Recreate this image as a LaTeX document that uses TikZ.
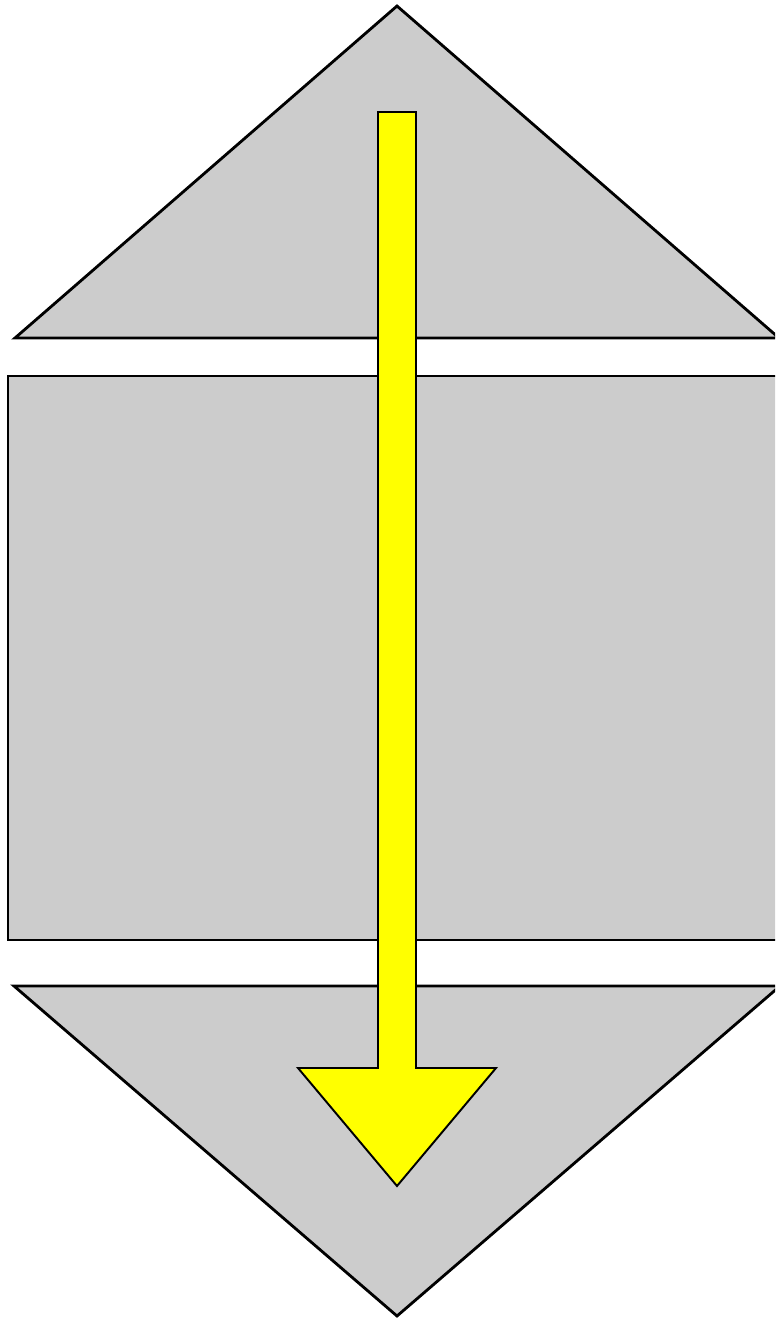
\documentclass[tikz,border=0pt]{standalone}
\usepackage{tikz}
\definecolor{prismgray}{HTML}{CCCCCC}
\definecolor{prismyellow}{HTML}{FFFF00}
\tikzset{
    prismpart/.style={draw=black, fill=prismgray, line width=1.6pt, line join=miter},
    prismarrow/.style={draw=black, fill=prismyellow, line width=1.1pt, line join=miter}
}

\begin{document}
\begin{tikzpicture}[x=0.02cm, y=-0.02cm]
    \useasboundingbox (0,0) rectangle (775,1319);
    \clip (0,0) rectangle (775,1319);
    % upper pyramid
    \path[prismpart] (397,6) coordinate (topapex) -- (15,338) coordinate (topleft) -- (779,338) coordinate (topright) -- cycle;
    % body
    \path[prismpart] (8,376) coordinate (bodynw) rectangle (786,940) coordinate (bodyse);
    % lower pyramid
    \path[prismpart] (14,986) coordinate (botleft) -- (780,986) coordinate (botright) -- (397,1316) coordinate (botapex) -- cycle;
    % axis arrow
    \path[prismarrow] (378,112) -- (416,112) -- (416,1068) -- (496,1068)
        -- (397,1186) -- (298,1068) -- (378,1068) -- cycle;
\end{tikzpicture}
\end{document}
